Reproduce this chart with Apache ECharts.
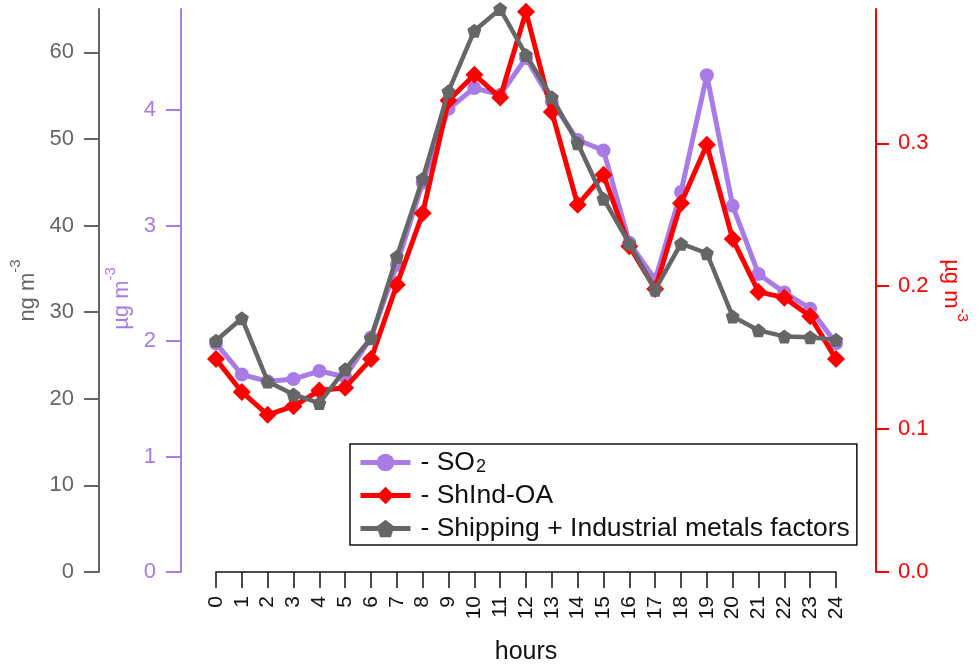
<!DOCTYPE html>
<html><head><meta charset="utf-8">
<script src="https://cdn.jsdelivr.net/npm/echarts@6/dist/echarts.min.js"></script>
<style>html,body{margin:0;padding:0;background:#fff}#c{width:978px;height:672px}</style>
</head><body><div id="c"></div>
<script>
const hours = [0,1,2,3,4,5,6,7,8,9,10,11,12,13,14,15,16,17,18,19,20,21,22,23,24];
const so2 = [1.98,1.71,1.65,1.67,1.74,1.69,2.03,2.66,3.37,4.01,4.19,4.13,4.45,4.07,3.74,3.65,2.85,2.53,3.29,4.30,3.17,2.58,2.42,2.28,1.98];
const shindOA = [0.149,0.126,0.110,0.116,0.127,0.129,0.149,0.201,0.251,0.330,0.348,0.332,0.392,0.322,0.257,0.278,0.228,0.198,0.258,0.299,0.233,0.196,0.192,0.179,0.149];
const shipInd = [26.7,29.3,22.0,20.5,19.5,23.4,27.0,36.4,45.4,55.5,62.5,65.0,59.7,54.8,49.5,43.1,37.9,32.6,37.9,36.8,29.5,27.9,27.2,27.1,26.8];
const grayTicks = [0,10,20,30,40,50,60];
const purpleTicks = [0,1,2,3,4];
const redTicks = [0,0.1,0.2,0.3];

const FONT = 'Liberation Sans, Arial, sans-serif';
const GRAY = '#666666', PURPLE = '#a97be6', RED = '#ff0000';
const pentagon = 'path://M0,-10 L9.51,-3.09 L5.88,8.09 L-5.88,8.09 L-9.51,-3.09 Z';

const chart = echarts.init(document.getElementById('c'), null, {renderer:'canvas'});
const pair = arr => hours.map((h,i)=>[h, arr[i]]);

function supRich(color, size){
  return {
    a:{fontFamily:FONT, fontSize:size, color:color, lineHeight:30, verticalAlign:'bottom'},
    s:{fontFamily:FONT, fontSize:15, color:color, lineHeight:14, verticalAlign:'top'}
  };
}

chart.setOption({
  animation:false,
  backgroundColor:'#fff',
  grid:{left:216, right:142, top:9, bottom:100, containLabel:false},
  xAxis:{
    type:'value', min:0, max:24, interval:1,
    name:'hours', nameLocation:'middle', nameGap:68,
    nameTextStyle:{fontFamily:FONT, fontSize:25, color:'#111'},
    axisLine:{show:true, onZero:false, lineStyle:{color:'#111', width:1.5}},
    axisTick:{show:true, inside:false, length:16, lineStyle:{color:'#111', width:1.5}},
    axisLabel:{rotate:90, margin:24, fontFamily:FONT, fontSize:21, color:'#111'},
    splitLine:{show:false}
  },
  yAxis:[
    {
      type:'value', position:'left', offset:117, min:0, max:65,
      name:'{a|ng m}{s|-3}', nameLocation:'middle', nameGap:56,
      nameTextStyle:{rich:supRich(GRAY,22)},
      axisLine:{show:true, onZero:false, lineStyle:{color:GRAY, width:2}},
      axisTick:{show:true, length:15, customValues:grayTicks, lineStyle:{color:GRAY, width:2}},
      axisLabel:{customValues:grayTicks, margin:25, fontFamily:FONT, fontSize:22, color:GRAY},
      splitLine:{show:false}
    },
    {
      type:'value', position:'left', offset:35, min:0, max:4.874,
      name:'{a|µg m}{s|-3}', nameLocation:'middle', nameGap:41,
      nameTextStyle:{rich:supRich(PURPLE,22), padding:[0,16,0,0]},
      axisLine:{show:true, onZero:false, lineStyle:{color:PURPLE, width:2}},
      axisTick:{show:true, length:15, customValues:purpleTicks, lineStyle:{color:PURPLE, width:2}},
      axisLabel:{customValues:purpleTicks, margin:25, fontFamily:FONT, fontSize:22, color:PURPLE},
      splitLine:{show:false}
    },
    {
      type:'value', position:'right', offset:40, min:0, max:0.394,
      name:'{a|µg m}{s|-3}', nameLocation:'middle', nameGap:64, nameRotate:-90,
      nameTextStyle:{rich:supRich(RED,22)},
      axisLine:{show:true, onZero:false, lineStyle:{color:RED, width:2}},
      axisTick:{show:true, length:13, customValues:redTicks, lineStyle:{color:RED, width:2}},
      axisLabel:{customValues:redTicks, margin:22, fontFamily:FONT, fontSize:22, color:RED,
                 formatter:v=>Number(v).toFixed(1)},
      splitLine:{show:false}
    }
  ],
  legend:{
    orient:'vertical', left:350, top:444,
    backgroundColor:'#fff', borderColor:'#111', borderWidth:1.5,
    padding:[4,7,3,8], itemGap:6, itemWidth:50, itemHeight:22,
    lineStyle:{width:5},
    textStyle:{fontFamily:FONT, fontSize:26.5, color:'#111',
      rich:{
        g:{width:5},
        a:{fontFamily:FONT, fontSize:26.5, color:'#111', lineHeight:26, verticalAlign:'top'},
        b:{fontFamily:FONT, fontSize:18, color:'#111', lineHeight:18, padding:[10,0,0,1], verticalAlign:'bottom'}
      }},
    formatter: n => n==='SO2' ? '{g|}{a|- SO}{b|2}' : '{g|}{a|- ' + n + '}',
    data:['SO2','ShInd-OA','Shipping + Industrial metals factors']
  },
  series:[
    {name:'SO2', type:'line', yAxisIndex:1, data:pair(so2), clip:false,
     symbol:'circle', symbolSize:14,
     lineStyle:{color:PURPLE, width:5}, itemStyle:{color:PURPLE}, z:2},
    {name:'ShInd-OA', type:'line', yAxisIndex:2, data:pair(shindOA), clip:false,
     symbol:'diamond', symbolSize:18,
     lineStyle:{color:RED, width:5}, itemStyle:{color:RED}, z:3},
    {name:'Shipping + Industrial metals factors', type:'line', yAxisIndex:0, data:pair(shipInd), clip:false,
     symbol:pentagon, symbolSize:14,
     lineStyle:{color:GRAY, width:4.5}, itemStyle:{color:GRAY}, z:4}
  ]
});
</script>
</body></html>
